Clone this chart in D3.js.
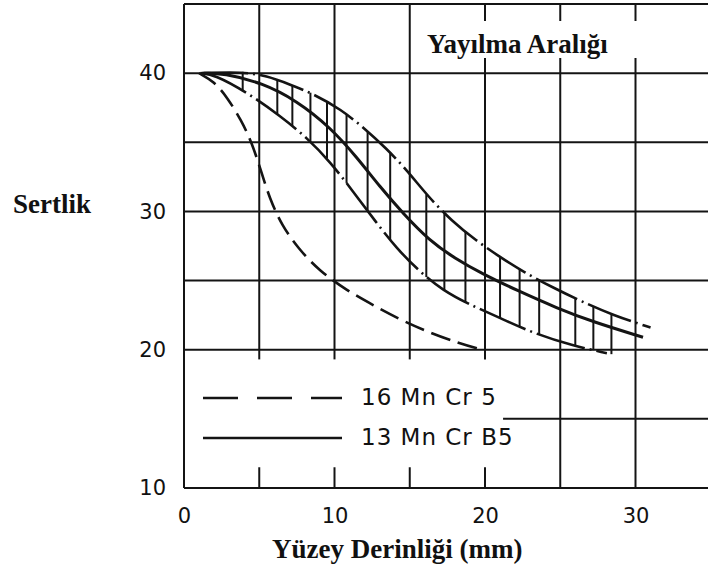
<!DOCTYPE html>
<html>
<head>
<meta charset="utf-8">
<script src="https://cdn.jsdelivr.net/npm/d3@7"></script>
<style>
  body { margin: 0; background: #fff; }
  svg { display: block; }
  .tick text { font-family: "DejaVu Sans", sans-serif; font-size: 21px; fill: #111; }
  .title { font-family: "Liberation Serif", "Times New Roman", serif; font-weight: bold; font-size: 27px; fill: #111; }
  .legend-label { font-family: "DejaVu Sans", sans-serif; font-size: 23px; letter-spacing: 1px; fill: #111; }
</style>
</head>
<body>
<svg id="chart"></svg>
<script>
// values (depth in mm, hardness)
const xTicks = [0, 10, 20, 30];
const yTicks = [10, 20, 30, 40];

const curve16MnCr5 = [
  [1.0, 40], [2.0, 39.4], [2.9, 38.2], [3.8, 36.6], [4.5, 35.0], [5.1, 33.0],
  [5.7, 30.9], [6.5, 29.0], [7.6, 27.3], [9.0, 25.7], [10.8, 24.3],
  [12.6, 23.2], [14.5, 22.1], [16.4, 21.2], [18.2, 20.5], [19.8, 20.0]
];

// upper edge of the scatter band (dash-dot)
const bandUpper = [
  [1.2, 40], [3.9, 40.1], [5.5, 39.8], [7.0, 39.2], [8.6, 38.5], [10.4, 37.4],
  [12.0, 36.0], [13.4, 34.6], [14.8, 33.0], [16.2, 31.1], [17.8, 29.3],
  [19.4, 27.9], [21.0, 26.7], [22.6, 25.6], [24.5, 24.5], [26.4, 23.5],
  [28.5, 22.5], [31.0, 21.6]
];

const curve13MnCrB5 = [
  [1.3, 40], [2.6, 40], [5.2, 39.3], [7.5, 38.0], [9.7, 36.1], [11.5, 33.9],
  [13.0, 31.8], [14.6, 29.8], [16.3, 27.9], [18.0, 26.6], [19.8, 25.5],
  [22.1, 24.3], [24.8, 23.0], [27.2, 22.0], [30.5, 20.9]
];

// lower edge of the scatter band (dash-dot)
const bandLower = [
  [1.1, 40], [2.0, 39.9], [4.2, 38.6], [6.4, 36.9], [8.2, 35.3], [9.7, 33.6],
  [11.2, 31.5], [12.7, 29.3], [14.15, 27.3], [15.7, 25.6], [17.2, 24.3],
  [18.9, 23.3], [21.0, 22.3], [23.2, 21.2], [25.8, 20.3], [28.1, 19.75]
];

// depths of the vertical hatch strokes inside the band
const hatchDepths = [3.9, 6.2, 7.2, 8.4, 9.5, 10.8, 12.2, 13.7, 16.1, 17.3, 18.7,
  21.0, 22.3, 23.6, 26.0, 27.2, 28.4];

const legendLabels = ["16 Mn Cr 5", "13 Mn Cr B5"];

class HardnessChart {
  constructor(_config) {
    this.config = {
      parentElement: _config.parentElement,
      containerWidth: _config.containerWidth || 708,
      containerHeight: _config.containerHeight || 574
    };
    this.initVis();
  }

  initVis() {
    let vis = this;

    vis.svg = d3.select(vis.config.parentElement)
        .attr('width', vis.config.containerWidth)
        .attr('height', vis.config.containerHeight);

    // plot frame runs off the right edge of the picture, like the scan
    vis.xScale = d3.scaleLinear().domain([0, 35]).range([184, 184 + 35 * 15.05]);
    vis.yScale = d3.scaleLinear().domain([10, 45]).range([488, 4]);

    vis.ink = '#141414';
    vis.chart = vis.svg.append('g');
  }

  valueAt(curve, x) {
    let i = d3.bisector(d => d[0]).left(curve, x);
    i = Math.max(1, Math.min(curve.length - 1, i));
    const a = curve[i - 1], b = curve[i];
    const t = (x - a[0]) / (b[0] - a[0]);
    return a[1] + (b[1] - a[1]) * t;
  }

  renderGrid() {
    let vis = this;
    const x = vis.xScale, y = vis.yScale;
    const g = vis.chart.append('g')
        .attr('stroke', vis.ink)
        .attr('stroke-width', 2)
        .attr('fill', 'none');

    const seg = (x1, y1, x2, y2) => g.append('line')
        .attr('x1', x(x1)).attr('y1', y(y1))
        .attr('x2', x(x2)).attr('y2', y(y2));

    // frame
    seg(0, 10, 0, 45);
    seg(0, 45, 36, 45);
    seg(0, 10, 36, 10);

    // horizontal grid
    [20, 25, 30, 35, 40].forEach(v => seg(0, v, 36, v));
    seg(21.2, 15, 36, 15);

    // vertical grid; left part is cut open for the legend
    [5, 10, 15, 20].forEach(v => {
      seg(v, 20, v, 45);
      seg(v, 20, v, 19.3);
      seg(v, 10, v, 11.5);
    });
    [25, 30, 35].forEach(v => seg(v, 10, v, 45));
  }

  renderCurves() {
    let vis = this;
    const line = d3.line()
        .x(d => vis.xScale(d[0]))
        .y(d => vis.yScale(d[1]))
        .curve(d3.curveBasis);

    // hatching between the band edges
    vis.chart.append('g')
      .selectAll('line')
      .data(hatchDepths)
      .join('line')
        .attr('x1', d => vis.xScale(d))
        .attr('x2', d => vis.xScale(d))
        .attr('y1', d => vis.yScale(vis.valueAt(bandUpper, d)))
        .attr('y2', d => vis.yScale(vis.valueAt(bandLower, d)))
        .attr('stroke', vis.ink)
        .attr('stroke-width', 2);

    const curves = [
      {data: bandUpper, dash: '46,5,2,5', width: 2.6},
      {data: bandLower, dash: '50,5,2,5', width: 2.6},
      {data: curve13MnCrB5, dash: null, width: 3},
      {data: curve16MnCr5, dash: '20,8', width: 2.6}
    ];

    vis.chart.append('g')
      .selectAll('path')
      .data(curves)
      .join('path')
        .attr('d', d => line(d.data))
        .attr('fill', 'none')
        .attr('stroke', vis.ink)
        .attr('stroke-width', d => d.width)
        .attr('stroke-dasharray', d => d.dash);
  }

  renderAxes() {
    let vis = this;

    vis.chart.append('g')
        .attr('transform', `translate(${vis.xScale(0)},0)`)
        .call(d3.axisLeft(vis.yScale).tickValues(yTicks).tickSize(0).tickPadding(18))
        .call(g => g.select('.domain').remove());

    vis.chart.append('g')
        .attr('transform', `translate(0,${vis.yScale(10)})`)
        .call(d3.axisBottom(vis.xScale).tickValues(xTicks).tickSize(0).tickPadding(20))
        .call(g => g.select('.domain').remove());
  }

  renderLabels() {
    let vis = this;

    // Y-Axis Label
    vis.svg.append('text')
      .attr('class', 'title')
      .attr('x', 13)
      .attr('y', 213)
      .text('Sertlik');

    // X-Axis Label
    vis.svg.append('text')
      .attr('class', 'title')
      .attr('x', 272)
      .attr('y', 558)
      .text('Yüzey Derinliği (mm)');

    // band title sits on a white patch over the grid
    vis.svg.append('rect')
      .attr('x', 412).attr('y', 21)
      .attr('width', 236).attr('height', 37)
      .attr('fill', '#fff');

    vis.svg.append('text')
      .attr('class', 'title')
      .attr('x', 427)
      .attr('y', 53)
      .text('Yayılma Aralığı');
  }

  renderLegend() {
    let vis = this;
    const rows = [
      {label: legendLabels[0], dash: '35,19', y: 398},
      {label: legendLabels[1], dash: null, y: 438}
    ];

    const g = vis.svg.append('g');
    g.selectAll('line')
      .data(rows)
      .join('line')
        .attr('x1', 203).attr('x2', 342)
        .attr('y1', d => d.y).attr('y2', d => d.y)
        .attr('stroke', vis.ink)
        .attr('stroke-width', 2.6)
        .attr('stroke-dasharray', d => d.dash);

    g.selectAll('text')
      .data(rows)
      .join('text')
        .attr('class', 'legend-label')
        .attr('x', 361)
        .attr('y', d => d.y + 7)
        .text(d => d.label);
  }

  updateVis() {
    this.renderGrid();
    this.renderCurves();
    this.renderAxes();
    this.renderLabels();
    this.renderLegend();
  }
}

const chart = new HardnessChart({parentElement: '#chart'});
chart.updateVis();
</script>
</body>
</html>
